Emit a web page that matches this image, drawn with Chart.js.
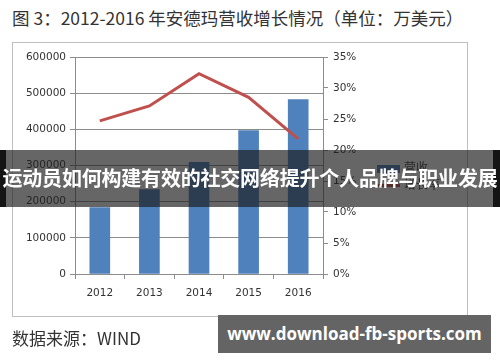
<!DOCTYPE html>
<html>
<head>
<meta charset="utf-8">
<script src="https://cdn.jsdelivr.net/npm/chart.js@4/dist/chart.umd.min.js"></script>
<style>
  html, body { margin:0; padding:0; background:#fff; }
  #wrap { position:relative; width:500px; height:362px; overflow:hidden; font-family:"Noto Sans CJK SC", sans-serif; }
  #c { position:absolute; left:0; top:0; }
  .title { position:absolute; left:12px; top:5px; font-size:17.5px; color:#333; white-space:nowrap; }
  .frame { position:absolute; left:12px; top:42px; width:454px; height:273px; border:1px solid #bfbfbf; }
  .src { position:absolute; left:12px; top:325px; font-size:17px; color:#333; white-space:nowrap; }
  .legend { position:absolute; left:377px; top:158px; font-size:12px; color:#404040; }
  .legend div { height:17px; line-height:17px; white-space:nowrap; }
  .legend span.sw { display:inline-block; vertical-align:middle; margin-right:4px; }
  .band { position:absolute; left:0; top:150px; width:500px; height:57px; }
  .band .l { position:absolute; left:0; top:0; width:6px; height:57px; background:#000; }
  .band .r { position:absolute; right:0; top:0; width:7px; height:57px; background:#000; }
  .band .g { position:absolute; left:0; top:0; width:500px; height:57px; background:rgba(30,30,30,0.68); }
  .band .t { position:absolute; left:0; width:500px; top:13px; text-align:center; color:#fff; font-weight:bold; font-size:20px; line-height:30px; white-space:nowrap; letter-spacing:-0.2px; }
  .wm { position:absolute; left:218px; top:315px; width:273px; height:38px; background:#646464; color:#fff; font-family:"Open Sans", "DejaVu Sans", sans-serif; font-weight:bold; font-size:17px; line-height:38px; text-align:center; white-space:nowrap; }
</style>
</head>
<body>
<div id="wrap">
  <div class="title">图 3：2012-2016 年安德玛营收增长情况（单位：万美元）</div>
  <div class="frame"></div>
  <canvas id="c" width="500" height="362"></canvas>
  <div class="legend">
    <div><span class="sw" style="width:23px;height:8px;background:#4f81bd;"></span>营收</div>
    <div><span class="sw" style="width:23px;height:3px;background:#c0504d;"></span>增长率</div>
  </div>
  <div class="band"><div class="l"></div><div class="r"></div><div class="g"></div><div class="t">运动员如何构建有效的社交网络提升个人品牌与职业发展</div></div>
  <div class="src">数据来源：WIND</div>
  <div class="wm">www.download-fb-sports.com</div>
</div>
<script>
const years = ["2012", "2013", "2014", "2015", "2016"];
const revenue = [183492, 233205, 308437, 396290, 482533];
const growth = [0.247, 0.271, 0.323, 0.285, 0.218];
const leftTicks = [0, 100000, 200000, 300000, 400000, 500000, 600000];
const rightTicks = [0, 0.05, 0.10, 0.15, 0.20, 0.25, 0.30, 0.35];

const tickFont = { family: "DejaVu Sans", size: 10.5 };
new Chart(document.getElementById('c'), {
  data: {
    labels: years,
    datasets: [
      { type: 'line', label: '增长率', data: growth, yAxisID: 'y1', borderColor: '#c0504d', borderWidth: 3, pointRadius: 0, tension: 0, order: 0 },
      { type: 'bar', label: '营收', data: revenue, yAxisID: 'y', backgroundColor: '#4f81bd', barThickness: 20, order: 1 }
    ]
  },
  options: {
    responsive: false,
    animation: false,
    devicePixelRatio: 1,
    layout: { padding: { top: 57, bottom: 0, left: 0, right: 0 } },
    plugins: { legend: { display: false }, tooltip: { enabled: false } },
    scales: {
      x: {
        grid: { display: true, drawOnChartArea: false, drawTicks: true, tickLength: 5, color: '#8c8c8c', offset: true },
        border: { display: true, color: '#8c8c8c' },
        ticks: { color: '#333', font: tickFont, padding: 8 },
        afterFit: (s) => { s.height = 88; }
      },
      y: {
        position: 'left', min: 0, max: 600000,
        afterBuildTicks: (s) => { s.ticks = leftTicks.map(v => ({ value: v })); },
        grid: { color: '#8c8c8c', tickLength: 5 },
        border: { display: true, color: '#8c8c8c' },
        ticks: { color: '#333', font: tickFont, padding: 4, callback: (v) => String(v) },
        afterFit: (s) => { s.width = 75; }
      },
      y1: {
        position: 'right', min: 0, max: 0.35,
        afterBuildTicks: (s) => { s.ticks = rightTicks.map(v => ({ value: v })); },
        grid: { drawOnChartArea: false, tickLength: 5, color: '#8c8c8c' },
        border: { display: true, color: '#8c8c8c' },
        ticks: { color: '#333', font: tickFont, padding: 5, callback: (v) => Math.round(v * 100) + '%' },
        afterFit: (s) => { s.width = 177; }
      }
    }
  }
});
</script>
</body>
</html>
